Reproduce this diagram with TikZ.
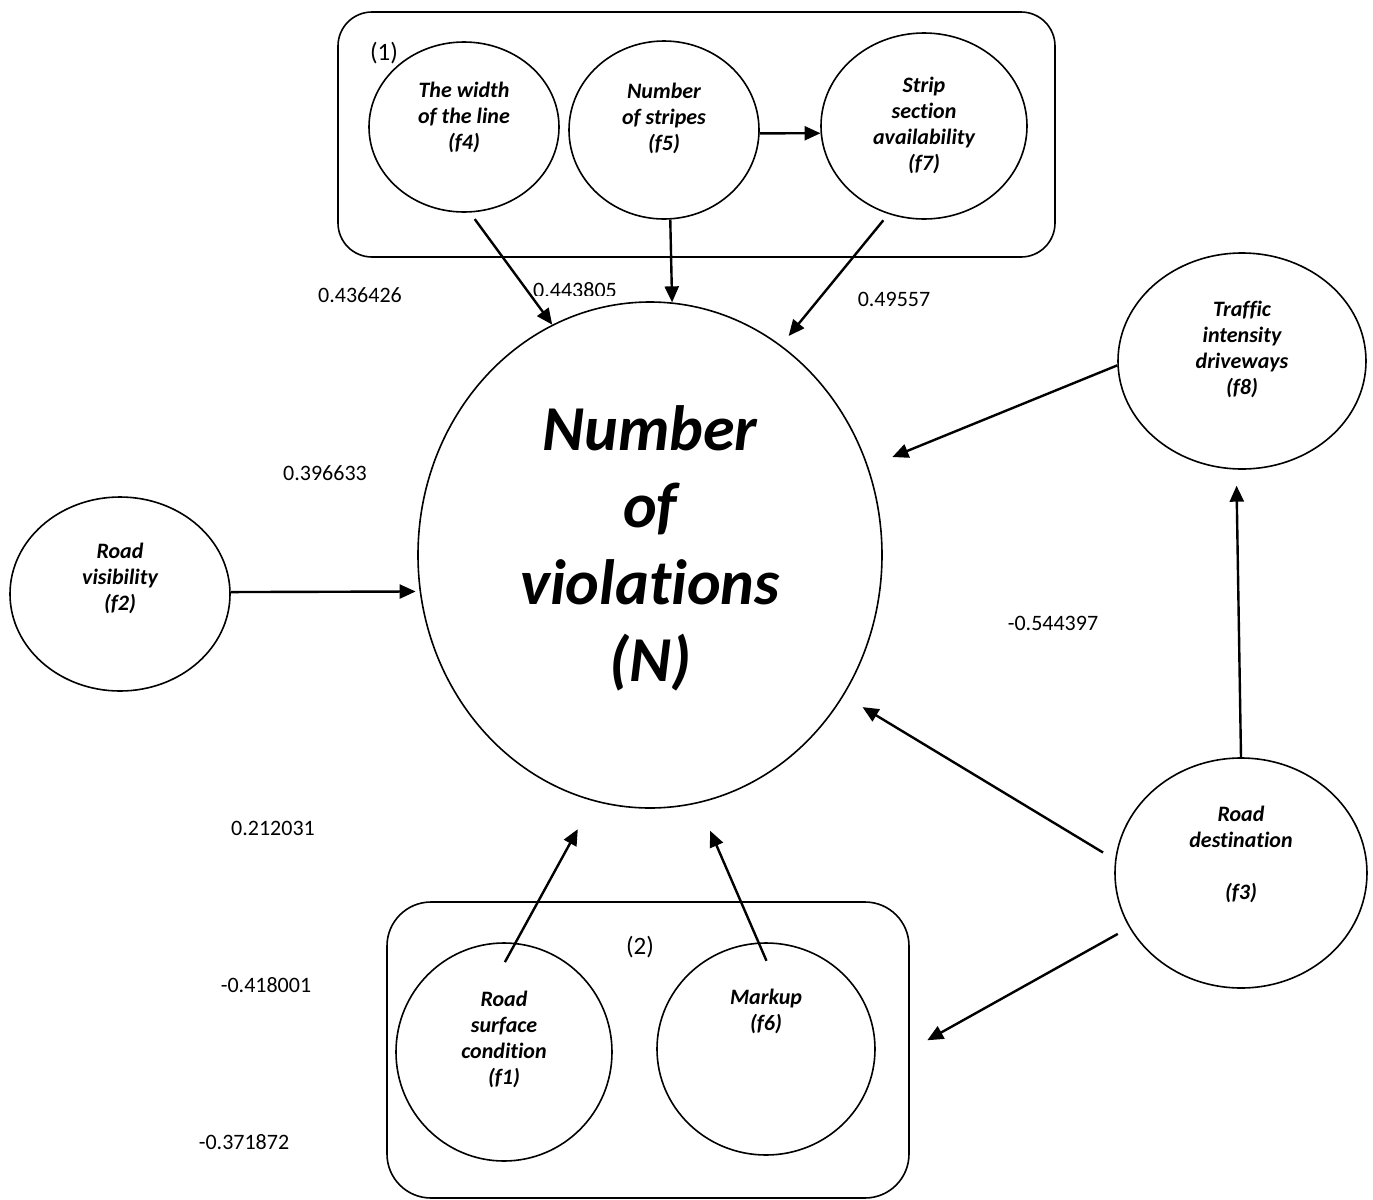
\documentclass[tikz,border=0pt]{standalone}
\usepackage{fontspec}
\setmainfont{Carlito}[Ligatures=NoCommon]
\usepackage{tikz}
\usetikzlibrary{shapes.geometric}
\usetikzlibrary{arrows,arrows.meta,shapes}
\usetikzlibrary{calc,positioning}

\begin{document}
\begin{tikzpicture}[x=0.5pt, y=-0.5pt,
        factor/.style={ellipse, draw, line width=0.8pt, inner sep=0pt},
        ftext/.style={anchor=north, align=center, inner sep=0pt, yshift=-#1, font=\fontsize{11}{13}\selectfont\bfseries\itshape},
        group/.style={rectangle, draw, line width=0.8pt, rounded corners=#1},
        coef/.style={inner sep=0pt, font=\fontsize{11}{13}\selectfont},
        conn/.style={-{Triangle[length=8pt,width=7pt]}, line width=1.2pt}]
            \useasboundingbox (0,0) rectangle (1373,1200);

            \node[group=17pt, minimum width=358.5pt, minimum height=122.5pt] (box1) at (696.5,134.5) {};
            \node[group=22pt, minimum width=261pt, minimum height=148pt] (box2) at (648,1050) {};
            \node[inner sep=0pt, font=\fontsize{12.5}{14}\selectfont] (g1) at (384,53) {(1)};
            \node[inner sep=0pt, font=\fontsize{12.5}{14}\selectfont] (g2) at (640,947) {(2)};

            \node[factor, minimum width=95pt, minimum height=85pt, label={[ftext=20pt]north:The width\\of the line\\(f4)}] (f4) at (464,127) {};
            \node[factor, minimum width=95pt, minimum height=89pt, label={[ftext=21pt]north:Number\\of stripes\\(f5)}] (f5) at (664,130) {};
            \node[factor, minimum width=103pt, minimum height=93pt, label={[ftext=22pt]north:Strip\\section\\availability\\(f7)}] (f7) at (924,126) {};
            \node[factor, minimum width=124pt, minimum height=108pt, label={[ftext=24pt]north:Traffic\\intensity\\driveways\\(f8)}] (f8) at (1242,361) {};
            \node[factor, minimum width=110pt, minimum height=97pt, label={[ftext=23pt]north:Road\\visibility\\(f2)}] (f2) at (120,594) {};
            \node[factor, minimum width=126pt, minimum height=115pt, label={[ftext=24pt]north:Road\\destination\\~\\(f3)}] (f3) at (1241,873) {};
            \node[factor, minimum width=108pt, minimum height=109pt, label={[ftext=24pt]north:Road\\surface\\condition\\(f1)}] (f1) at (504,1052) {};
            \node[factor, minimum width=109pt, minimum height=106pt, label={[ftext=23pt]north:Markup\\(f6)}] (f6) at (766,1049) {};
            \node[factor, minimum width=232pt, minimum height=253pt, label={[ftext=52pt, font=\fontsize{32}{38.5}\selectfont\bfseries\itshape]north:Number\\of\\violations\\(N)}] (N) at (650,555) {};

            \foreach \v/\px/\py [count=\i] in {0.436426/360/295, 0.49557/894/299, 0.396633/325/473, -0.544397/1053/623, 0.212031/273/828, -0.418001/266/985, -0.371872/244/1142}{
                \node[coef] (w\i) at (\px,\py) {\v};
            }
            \begin{scope}
                \clip (520,270) rectangle (630,295);
                \node[coef] (w0) at (575,290) {0.443805};
            \end{scope}

            \draw[conn, shorten <=4pt] (f4.-86) -- (N.113);
            \draw[conn] (f5.-86) -- (N.85);
            \draw[conn] (f5.-2) -- (f7.-176);
            \draw[conn, shorten <=4pt, shorten >=6pt] (f7.-112) -- (N.58);
            \draw[conn, shorten >=13pt] (f8.182) -- (N.22);
            \draw[conn, shorten >=2pt] (f2.1) -- (N.189);
            \draw[conn, shorten <=7pt, shorten >=11pt] (f3.174) -- (N.-36);
            \draw[conn, shorten >=8pt] (f3.90) -- (f8.-93);
            \draw[conn, shorten <=6.5pt, shorten >=10pt] (f3.206) -- (box2.east);
            \draw[conn, shorten <=-11pt, shorten >=16pt] (f1.84) -- (N.-103);
            \draw[conn, shorten <=-10pt, shorten >=15pt] (f6.94) -- (N.-79.5);
    \end{tikzpicture}
\end{document}
